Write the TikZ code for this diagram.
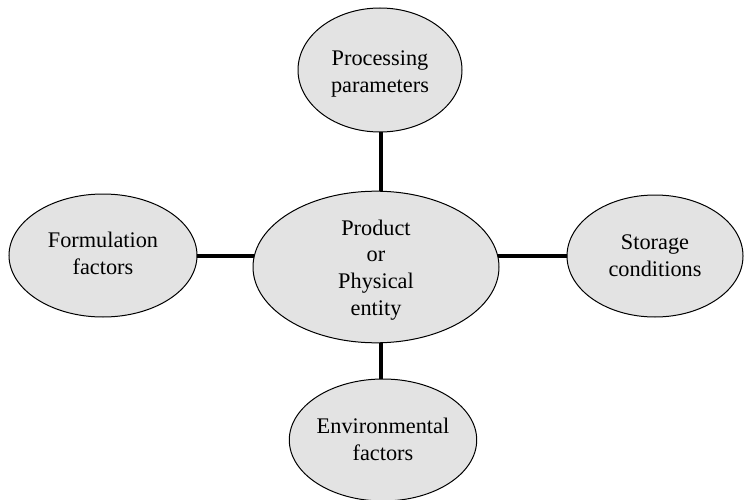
\documentclass[tikz,border=0pt]{standalone}
\usepackage{fontspec}
\setmainfont{Liberation Serif}
\usetikzlibrary{shapes.geometric}
\pgfdeclarelayer{background}
\pgfsetlayers{background,main}
\definecolor{bubblefill}{HTML}{E3E3E3}
% stacked lines, drawn #1 lower while keeping the box size used for centring
\newcommand{\bubbletext}[2]{\raisebox{-#1}[\height][\depth]{\begin{tabular}{@{}c@{}}#2\end{tabular}}}
\begin{document}
\begin{tikzpicture}[x=1pt,y=1pt,
  bubble/.style={ellipse, draw=black, line width=1pt, fill=bubblefill,
    inner sep=0pt,
    font=\fontsize{22.3}{26.8}\selectfont},
  link/.style={line width=4pt, black}]
  \useasboundingbox (0,0) rectangle (746,499);

  % central entity and the four influencing groups
  \node[bubble, minimum width=246, minimum height=144] (hubnode) at (376,232)
    {\bubbletext{3pt}{Product\\or\\Physical\\entity}};
  \node[bubble, minimum width=164, minimum height=124] (top) at (380,429)
    {\bubbletext{4pt}{Processing\\parameters}};
  \node[bubble, minimum width=188, minimum height=123] (left) at (103,243.5)
    {\bubbletext{0pt}{Formulation\\factors}};
  \node[bubble, minimum width=176, minimum height=122] (right) at (655,243)
    {\bubbletext{2pt}{Storage\\conditions}};
  \node[bubble, minimum width=170, minimum height=122] (bottom) at (383,59)
    {\bubbletext{2pt}{Environmental\\factors}};

  % crossing point of the two connector bars
  \coordinate (cross) at (381,243);

  % connector bars sit behind the filled ellipses
  \begin{pgfonlayer}{background}
    \draw[link] (cross -| left.center) -- (cross -| right.center);
    \draw[link] (cross |- top.center) -- (cross |- bottom.center);
  \end{pgfonlayer}
\end{tikzpicture}
\end{document}
